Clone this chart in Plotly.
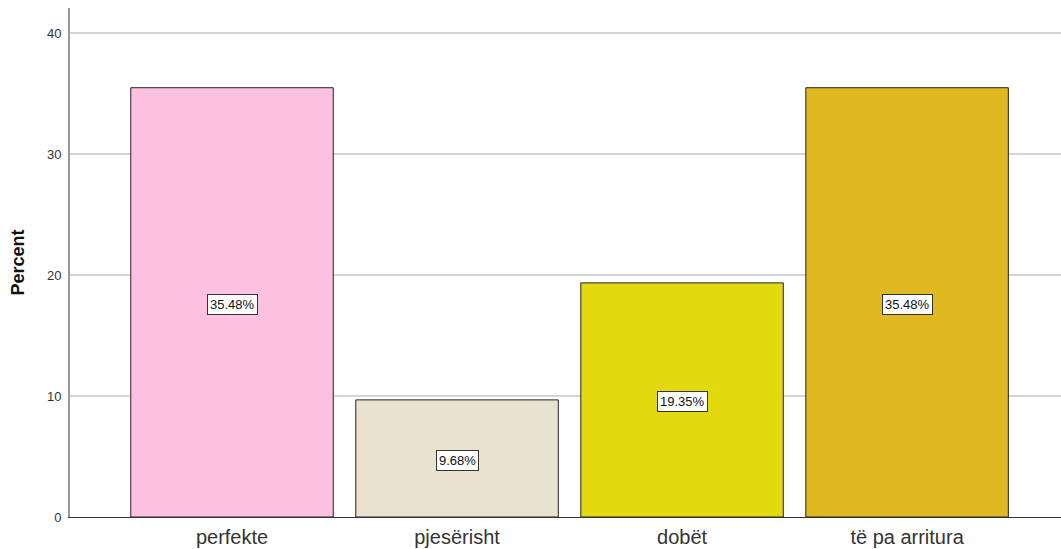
import plotly.graph_objects as go

categories = ["perfekte", "pjesërisht", "dobët", "të pa arritura"]
percents = [35.48, 9.68, 19.35, 35.48]
labels = ["35.48%", "9.68%", "19.35%", "35.48%"]
colors = ["#FCC0E0", "#E9E2CE", "#E2D90F", "#E0B920"]
y_ticks = [0, 10, 20, 30, 40]

fig = go.Figure()
fig.add_trace(go.Bar(
    x=list(range(len(categories))), y=percents,
    marker=dict(color=colors, line=dict(color="#222222", width=1)),
    width=0.9, hoverinfo="skip",
))

for i, (v, t) in enumerate(zip(percents, labels)):
    fig.add_annotation(x=i, y=v / 2, yshift=-2, text=t, showarrow=False,
                       font=dict(family="Arial, Liberation Sans", size=13, color="#111111"),
                       bgcolor="white", bordercolor="#333333", borderwidth=1, borderpad=2)

fig.update_layout(
    width=1061, height=549,
    margin=dict(l=70, r=0, t=8, b=32),
    plot_bgcolor="white", paper_bgcolor="white",
    showlegend=False,
    font=dict(family="Arial, Liberation Sans"),
)
fig.update_xaxes(
    range=[-0.72, 3.684], tickmode="array", tickvals=list(range(len(categories))),
    ticktext=categories, tickfont=dict(size=20, color="#333333"),
    showline=True, linecolor="#333333", linewidth=1, showgrid=False, ticks="",
    ticklabelstandoff=2,
)
fig.update_yaxes(
    range=[0, 42.07], tickmode="array", tickvals=y_ticks,
    tickfont=dict(size=13, color="#333333"),
    showline=True, linecolor="#999999", linewidth=2,
    showgrid=True, gridcolor="#d4d4d4", gridwidth=2, zeroline=False, ticks="",
    ticklabelstandoff=4,
    title=dict(text="<b>Percent</b>", font=dict(size=18, color="#111111"), standoff=18),
)
fig.write_html("out.html")
